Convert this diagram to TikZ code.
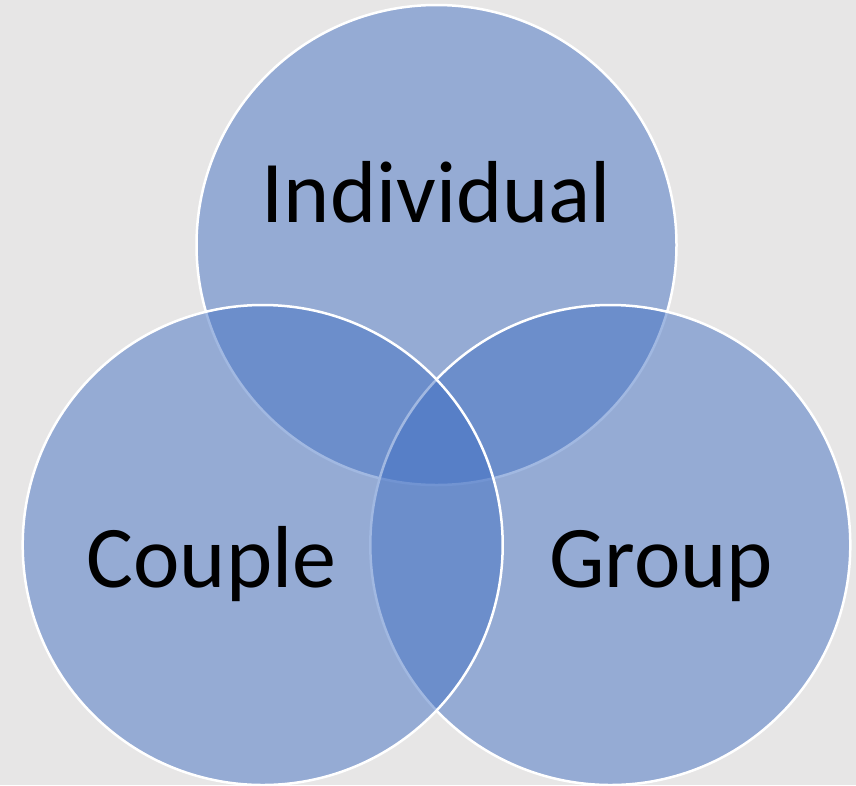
\documentclass[tikz,border=0pt]{standalone}
\usepackage{fontspec}
\setmainfont{Carlito}
\definecolor{bg}{HTML}{E7E6E6}
\definecolor{accent}{HTML}{4472C4}
\begin{document}
\begin{tikzpicture}[x=1pt,y=-1pt,
  venn/.style={circle,minimum size=480pt,inner sep=0pt,fill=accent,fill opacity=0.5,draw=white,draw opacity=1,line width=2.5pt},
  lbl/.style={anchor=base,font=\fontsize{88}{100}\selectfont,text=black,inner sep=0pt}]
\fill[bg] (0,0) rectangle (856,785);
\useasboundingbox (0,0) rectangle (856,785);
\node[venn] (ind) at (436.5,245) {};
\node[venn] (grp) at (610.3,545) {};
\node[venn] (cpl) at (262.7,545) {};
\node[lbl] (tind) at (436.5,222) {Individual};
\node[lbl] (tcpl) at (211.5,587) {Couple};
\node[lbl] (tgrp) at (661,587) {Group};
\end{tikzpicture}
\end{document}
